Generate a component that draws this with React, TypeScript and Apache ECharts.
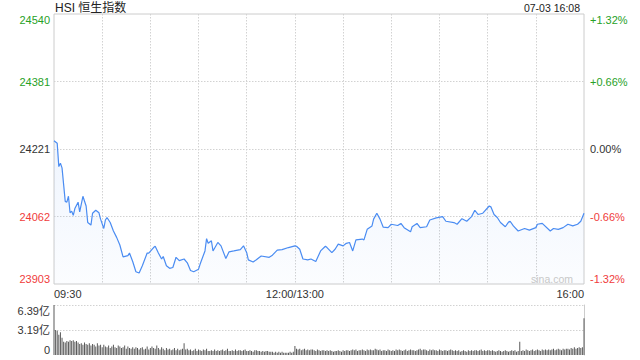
import React, { useEffect, useRef } from 'react';
import * as echarts from 'echarts';

const titleText = 'HSI 恒生指数';
const stampText = '07-03 16:08';
const watermark = 'sina.com';

const yMin = 23903;
const yMax = 24540;
const yInterval = 159.25;
const priceTicks = ['23903', '24062', '24221', '24381', '24540'];
const pctTicks = ['-1.32%', '-0.66%', '0.00%', '+0.66%', '+1.32%'];

const GREEN = '#27a127';
const RED = '#f03c3c';
const DARK = '#333333';
const tickColors = [RED, RED, DARK, GREEN, GREEN];

const timeLabels: Record<number, string> = { 0: '09:30', 150: '12:00/13:00', 330: '16:00' };

const lineMinutes = [
  0, 2, 3, 4, 5, 7, 8, 9, 10, 11,
  12, 13, 15, 16, 18, 20, 21, 23, 24, 26,
  28, 29, 31, 32, 33, 35, 37, 39, 41, 43,
  46, 47, 49, 51, 53, 55, 58, 59, 62, 63,
  65, 67, 68, 70, 72, 74, 76, 78, 81, 83,
  85, 87, 90, 91, 94, 95, 96, 98, 99, 102,
  104, 107, 109, 112, 116, 118, 120, 121, 124, 126,
  129, 134, 136, 139, 142, 146, 150, 151, 153, 155,
  158, 160, 163, 166, 169, 170, 173, 175, 177, 180,
  182, 184, 186, 188, 192, 193, 195, 198, 199, 201,
  203, 205, 208, 210, 214, 216, 218, 222, 223, 226,
  228, 232, 234, 238, 242, 244, 249, 251, 254, 257,
  260, 262, 264, 267, 271, 272, 274, 276, 278, 281,
  283, 284, 286, 289, 293, 296, 300, 301, 304, 309,
  311, 314, 317, 320, 323, 326, 328, 330,
];

const lineValues = [
  24241, 24235, 24180, 24188, 24177, 24098, 24096, 24110, 24071, 24075,
  24065, 24081, 24096, 24073, 24110, 24087, 24048, 24042, 24070, 24077,
  24071, 24056, 24034, 24054, 24060, 24048, 24028, 24013, 23995, 23967,
  23970, 23976, 23956, 23932, 23929, 23946, 23976, 23976, 23989, 23992,
  23976, 23962, 23968, 23946, 23940, 23942, 23966, 23958, 23962, 23953,
  23935, 23932, 23938, 23950, 23981, 24010, 23999, 24005, 23981, 24001,
  23993, 23963, 23979, 23981, 23984, 23993, 23977, 23960, 23955, 23960,
  23969, 23966, 23971, 23983, 23984, 23989, 23993, 23992, 23985, 23962,
  23960, 23962, 23956, 23981, 23992, 23989, 23977, 23985, 23997, 23993,
  23999, 24001, 23981, 24007, 24009, 24007, 24032, 24040, 24056, 24070,
  24056, 24037, 24036, 24044, 24041, 24046, 24036, 24026, 24038, 24046,
  24036, 24038, 24054, 24059, 24062, 24051, 24048, 24044, 24057, 24051,
  24062, 24077, 24067, 24070, 24087, 24085, 24067, 24060, 24048, 24038,
  24049, 24051, 24040, 24028, 24034, 24030, 24036, 24044, 24046, 24028,
  24034, 24032, 24036, 24044, 24040, 24044, 24051, 24070,
];

// volume per minute, in 亿
const volumes = [
  6.39,
  3.2, 3.1, 2.6, 2.9, 2.2, 1.7, 1.6, 1.8, 1.7, 1.9,
  1.8, 1.9, 1.7, 1.8, 1.6, 1.4, 1.5, 1.3, 1.6, 1.4,
  1.3, 1.5, 1.2, 1.4, 1.3, 1.1, 1.5, 1.2, 1.3, 1.0,
  1.3, 1.1, 1.0, 1.2, 0.9, 1.1, 1.3, 1.0, 0.9, 1.2,
  1.1, 0.9, 1.0, 1.2, 0.8, 1.1, 0.9, 0.8, 1.0, 0.8,
  1.0, 0.9, 0.7, 0.9, 1.0, 0.7, 0.8, 1.1, 0.7, 0.9,
  1.1, 0.9, 0.8, 1.2, 0.9, 0.7, 1.0, 0.8, 0.6, 0.9,
  0.7, 0.8, 0.6, 0.7, 0.9, 0.6, 0.8, 0.6, 0.7, 0.8,
  1.5, 0.7, 0.8, 0.6, 0.7, 0.5, 0.6, 0.8, 0.5, 0.7,
  0.6, 0.5, 0.7, 0.6, 0.8, 0.5, 0.5, 0.6, 0.5, 0.7,
  0.5, 0.6, 0.5, 0.6, 0.7, 0.5, 0.6, 0.8, 0.5, 0.5,
  0.6, 0.5, 0.7, 0.5, 0.6, 0.6, 0.5, 0.6, 0.7, 0.5,
  0.5, 0.6, 0.5, 0.4, 0.6, 0.6, 0.5, 0.5, 0.4, 0.5,
  0.4, 0.5, 0.5, 0.4, 0.4, 0.4, 0.3, 0.4, 0.3, 0.4,
  0.3, 0.4, 0.3, 0.3, 0.3, 0.3, 0.4, 0.3, 0.4, 1.15,
  0.8, 0.7, 0.8, 0.6, 0.7, 0.8, 0.6, 0.7, 0.6, 0.7,
  0.7, 0.6, 0.5, 0.7, 0.6, 0.5, 0.6, 0.6, 0.5, 0.6,
  0.5, 0.6, 0.5, 0.4, 0.5, 0.5, 0.6, 0.5, 0.4, 0.6,
  0.5, 0.6, 0.6, 0.5, 0.6, 0.7, 0.6, 0.7, 0.5, 0.6,
  0.6, 0.7, 0.6, 0.5, 0.7, 0.6, 0.7, 0.6, 0.6, 0.8,
  0.7, 0.6, 0.7, 0.5, 0.6, 0.6, 0.5, 0.7, 0.6, 0.5,
  0.6, 0.5, 0.7, 0.6, 0.7, 0.6, 0.5, 0.6, 0.7, 0.5,
  0.6, 0.7, 0.6, 0.6, 0.5, 0.6, 0.7, 0.8, 0.6, 0.7,
  0.7, 0.6, 0.5, 0.7, 0.6, 0.7, 0.6, 0.6, 0.5, 0.7,
  0.6, 0.5, 0.6, 0.6, 0.5, 0.6, 0.7, 0.6, 0.5, 0.6,
  0.5, 0.6, 0.4, 0.5, 0.6, 0.5, 0.4, 0.6, 0.5, 0.6,
  0.5, 0.6, 0.6, 0.5, 0.6, 0.7, 0.5, 0.6, 0.5, 0.6,
  0.6, 0.5, 0.6, 0.5, 0.4, 0.5, 0.6, 0.5, 0.4, 0.5,
  0.6, 0.5, 0.4, 0.5, 0.6, 0.5, 0.6, 0.4, 0.5, 1.7,
  0.5, 0.6, 0.5, 0.7, 0.6, 0.5, 0.6, 0.7, 0.5, 0.6,
  0.7, 0.6, 0.5, 0.7, 0.6, 0.7, 0.6, 0.7, 0.6, 0.7,
  0.8, 0.6, 0.7, 0.8, 0.7, 0.6, 0.8, 0.7, 0.8, 0.8,
  0.7, 0.9, 0.8, 1.0, 0.8, 0.9, 1.0, 0.9, 1.0, 4.7,
];
const volMax = 6.39;
const volInterval = 3.195;
const volTicks = ['0', '3.19亿', '6.39亿'];

const FONT = 'Arial, "Liberation Sans", "Noto Sans CJK SC", sans-serif';

const priceIdx = (v: any) => Math.round((Number(v) - yMin) / yInterval);
const volIdx = (v: any) => Math.round(Number(v) / volInterval);

export default function App() {
  const ref = useRef<HTMLDivElement>(null);

  useEffect(() => {
    if (!ref.current) return;
    const chart = echarts.init(ref.current, undefined, { renderer: 'svg' });

    const splitStyle = { color: '#d2d2d2', type: [1.5, 1.5] as any, width: 1 };

    const option: any = {
      animation: false,
      backgroundColor: '#ffffff',
      textStyle: { fontFamily: FONT },
      grid: [
        { left: 54, top: 14, width: 530, height: 270, show: true, borderColor: '#cccccc', borderWidth: 1, backgroundColor: 'transparent' },
        { left: 54, top: 305, width: 530, height: 50 },
      ],
      xAxis: [
        {
          type: 'value', gridIndex: 0, min: 0, max: 330, interval: 30,
          axisLine: { show: false }, axisTick: { show: false },
          splitLine: { show: true, showMinLine: false, showMaxLine: false, lineStyle: splitStyle },
          axisLabel: {
            show: true, margin: 4, fontSize: 11, color: DARK, fontFamily: FONT,
            formatter: (v: number) => timeLabels[Math.round(Number(v))] ?? '',
            alignMinLabel: 'left', alignMaxLabel: 'right',
          },
        },
        {
          type: 'value', gridIndex: 1, min: 0, max: 330, interval: 30, show: false,
        },
      ],
      yAxis: [
        {
          type: 'value', gridIndex: 0, min: yMin, max: yMax, interval: yInterval, position: 'left',
          axisLine: { show: false }, axisTick: { show: false },
          splitLine: { show: true, showMinLine: false, showMaxLine: false, lineStyle: splitStyle },
          axisLabel: {
            margin: 4, fontSize: 11, fontFamily: FONT,
            formatter: (v: number) => priceTicks[priceIdx(v)] ?? '',
            color: (v: any) => tickColors[priceIdx(v)] ?? DARK,
            verticalAlignMinLabel: 'bottom', verticalAlignMaxLabel: 'top',
          },
        },
        {
          type: 'value', gridIndex: 0, min: yMin, max: yMax, interval: yInterval, position: 'right',
          axisLine: { show: false }, axisTick: { show: false }, splitLine: { show: false },
          axisLabel: {
            margin: 6, fontSize: 11, fontFamily: FONT,
            formatter: (v: number) => pctTicks[priceIdx(v)] ?? '',
            color: (v: any) => tickColors[priceIdx(v)] ?? DARK,
            verticalAlignMinLabel: 'bottom', verticalAlignMaxLabel: 'top',
          },
        },
        {
          type: 'value', gridIndex: 1, min: 0, max: volMax, interval: volInterval, position: 'left',
          axisLine: { show: false }, axisTick: { show: false },
          splitLine: { show: true, showMinLine: false, lineStyle: splitStyle },
          axisLabel: {
            margin: 4, fontSize: 11, color: DARK, fontFamily: FONT,
            formatter: (v: number) => volTicks[volIdx(v)] ?? '',
            verticalAlignMinLabel: 'bottom', verticalAlignMaxLabel: 'top',
          },
        },
        {
          type: 'value', gridIndex: 1, min: 0, max: volMax, interval: volInterval, position: 'right',
          axisLine: { show: true, lineStyle: { color: '#cccccc', width: 1 } },
          axisTick: { show: false }, axisLabel: { show: false }, splitLine: { show: false },
        },
      ],
      series: [
        {
          type: 'line', xAxisIndex: 0, yAxisIndex: 0,
          data: lineMinutes.map((m, i) => [m, lineValues[i]]),
          showSymbol: false, symbol: 'none',
          lineStyle: { color: '#4a8cf2', width: 1.2 },
          areaStyle: {
            origin: 'start',
            color: new echarts.graphic.LinearGradient(0, 0, 0, 1, [
              { offset: 0, color: 'rgba(79,142,240,0.13)' },
              { offset: 1, color: 'rgba(79,142,240,0.03)' },
            ]),
          },
          z: 3,
        },
        {
          type: 'bar', xAxisIndex: 1, yAxisIndex: 2,
          data: volumes.map((v, i) => [i, v]),
          barWidth: 1,
          itemStyle: { color: '#5a5a5a' },
        },
      ],
      graphic: [
        { type: 'text', x: 55, y: 8, style: { text: titleText, fontSize: 12, fill: '#222', fontFamily: FONT, align: 'left', verticalAlign: 'middle' } },
        { type: 'text', x: 580, y: 8, style: { text: stampText, fontSize: 10.5, fill: '#222', fontFamily: FONT, align: 'right', verticalAlign: 'middle' } },
        { type: 'text', x: 552, y: 279, z: 10, style: { text: watermark, fontSize: 10.5, fill: '#c8c8c8', fontFamily: FONT, align: 'center', verticalAlign: 'middle' } },
      ],
    };

    chart.setOption(option);
    return () => chart.dispose();
  }, []);

  return (
    <div
      ref={ref}
      style={{ position: 'fixed', left: 0, top: 0, width: 640, height: 360, background: '#fff' }}
    />
  );
}
